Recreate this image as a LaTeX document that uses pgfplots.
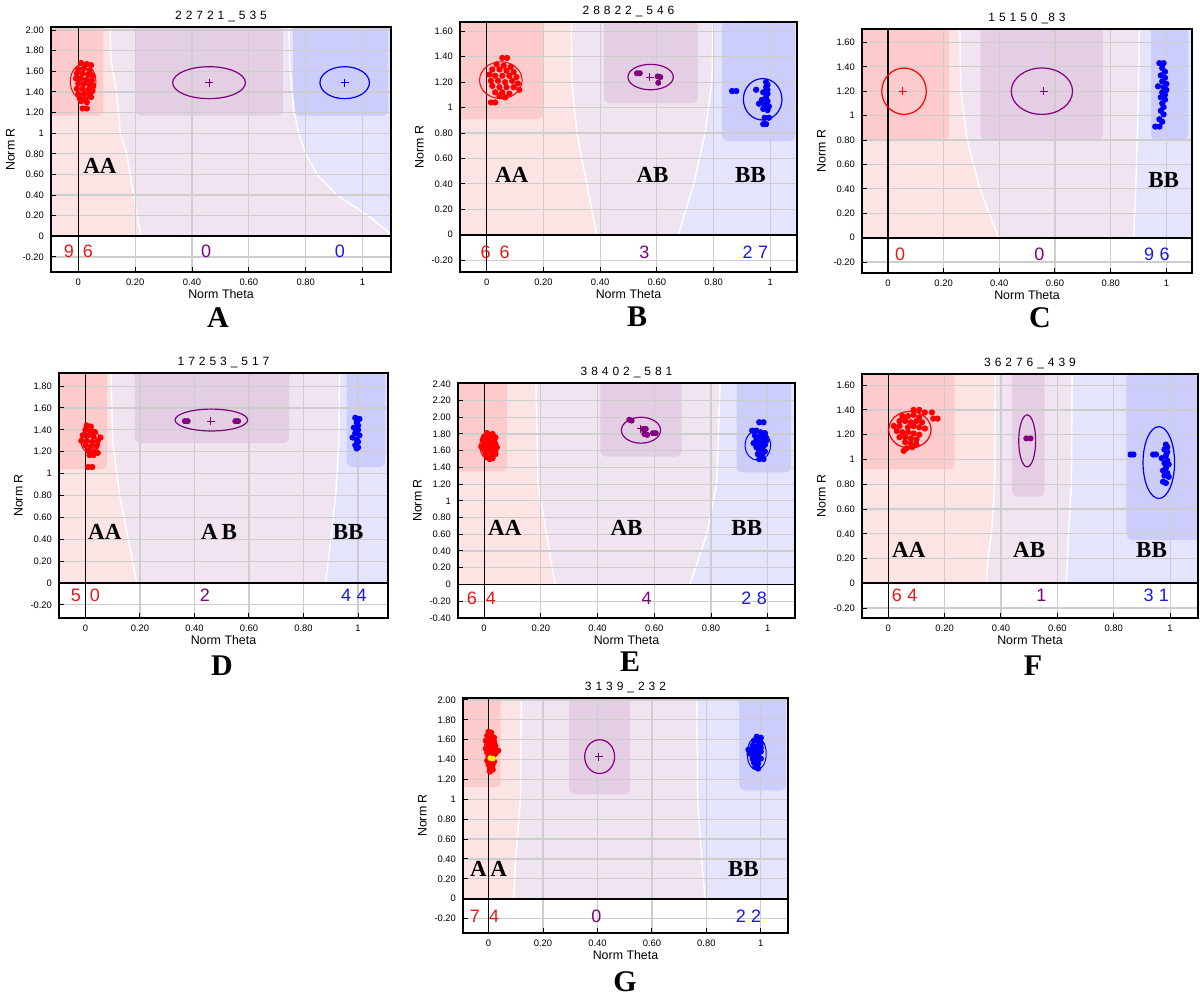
\documentclass[border=0pt]{standalone}
\usepackage{fontspec}
\setmainfont{Liberation Sans}
\newfontfamily\tnr{Liberation Serif}
\usepackage{pgfplots}
\pgfplotsset{compat=1.18}
\definecolor{aaOut}{RGB}{253,228,228}
\definecolor{aaIn}{RGB}{253,203,203}
\definecolor{abOut}{RGB}{241,228,241}
\definecolor{abIn}{RGB}{228,206,228}
\definecolor{bbOut}{RGB}{228,228,252}
\definecolor{bbIn}{RGB}{205,205,252}
\definecolor{gridgray}{RGB}{205,205,205}
\definecolor{cRed}{RGB}{255,0,0}
\definecolor{tRed}{RGB}{232,24,24}
\definecolor{cPurple}{RGB}{128,0,128}
\definecolor{cBlue}{RGB}{0,0,250}
\definecolor{tBlue}{RGB}{24,24,225}
\newcommand\mylab{\pgfmathtruncatemacro\tk{round(\tick*100)}\ifnum\tk=0 0\else\ifnum\tk=100 1\else\pgfmathprintnumber[fixed,fixed zerofill,precision=2,assume math mode=true]{\tick}\fi\fi}
\def\s{\hspace{0.33em}}
\newcommand\cnt[1]{\fontsize{9}{10}\selectfont #1}
\newcommand\gl[1]{{\fontsize{11.5}{12}\tnr\bfseries #1}}
\pgfplotsset{
  gs/.style={
    scale only axis, set layers, clip mode=individual,
    xtick={0,0.2,0.4,0.6,0.8,1},
    ytick={-0.4,-0.2,0,0.2,0.4,0.6,0.8,1,1.2,1.4,1.6,1.8,2,2.2,2.4},
    grid=major, grid style={draw=gridgray, line width=0.6pt},
    axis line style={line width=0.8pt},
    tick style={black, line width=0.5pt}, major tick length=2.5pt,
    tick pos=left, tick align=inside,
    ticklabel style={font=\fontsize{4.7}{5}\selectfont},
    xticklabel={\mylab}, yticklabel={\mylab},
    xlabel={Norm Theta}, ylabel={Norm R},
    label style={font=\fontsize{6.2}{7}\selectfont},
    xlabel style={yshift=5pt}, ylabel style={yshift=-3pt},
    title style={font=\fontsize{6}{7}\selectfont, yshift=-7pt},
  },
  bg/.style={draw=none, on layer=axis background, forget plot},
  inr/.style={draw=none, rounded corners=3pt, on layer=axis background, forget plot},
  bd/.style={white, line width=0.7pt, on layer=axis background, forget plot},
  zl/.style={black, line width=0.9pt, forget plot},
  rp/.style={only marks, mark=*, mark size=1.35pt, color=cRed},
  pp/.style={only marks, mark=*, mark size=1.3pt, color=cPurple},
  bp/.style={only marks, mark=*, mark size=1.35pt, color=cBlue},
  cr/.style={only marks, mark=+, mark size=2pt, line width=0.5pt},
}
\begin{document}
\begin{tikzpicture}
% ---------------- A
\begin{axis}[gs, at={(25.5pt,363pt)}, anchor=south west, width=170pt, height=122.5pt,
  xmin=-0.096, xmax=1.10, ymin=-0.346, ymax=2.03, title={2\s2\s7\s2\s1\s\_\s5\s3\s5}]
\addplot[bg, fill=abOut] coordinates {(-0.2,0)(1.2,0)(1.2,3)(-0.2,3)};
\addplot[bg, fill=aaOut] coordinates {(-0.2,0)(0.22,0)(0.195,0.4)(0.17,0.8)(0.148,1.0)(0.135,1.4)(0.115,1.7)(0.105,3)(-0.2,3)};
\addplot[bg, fill=bbOut] coordinates {(1.2,0)(1.1,0.02)(1.02,0.2)(0.91,0.4)(0.84,0.6)(0.80,0.8)(0.775,1.0)(0.76,1.2)(0.745,1.6)(0.73,3)(1.2,3)};
\addplot[inr, fill=aaIn] coordinates {(-0.3,3)(-0.3,1.17)(0.088,1.17)(0.088,3)};
\addplot[inr, fill=abIn] coordinates {(0.2,3)(0.2,1.17)(0.72,1.17)(0.72,3)};
\addplot[inr, fill=bbIn] coordinates {(0.756,3)(0.756,1.17)(1.09,1.17)(1.09,3)};
\addplot[bd] coordinates {(0.22,0)(0.195,0.4)(0.17,0.8)(0.148,1.0)(0.135,1.4)(0.115,1.7)(0.105,3)};
\addplot[bd] coordinates {(1.1,0.02)(1.02,0.2)(0.91,0.4)(0.84,0.6)(0.80,0.8)(0.775,1.0)(0.76,1.2)(0.745,1.6)(0.73,3)};
\addplot[zl] coordinates {(-0.2,0)(1.2,0)};
\addplot[zl, line width=0.6pt] coordinates {(0,-0.5)(0,3)};
\addplot[rp] coordinates {(0.010,1.68)(0.030,1.67)(0.045,1.66)(0.000,1.62)(0.020,1.63)(0.040,1.61)(-0.005,1.58)(0.015,1.58)(0.035,1.57)(0.050,1.56)(-0.008,1.53)(0.010,1.53)(0.030,1.52)(0.048,1.51)(0.000,1.48)(0.020,1.48)(0.040,1.47)(0.052,1.46)(-0.005,1.43)(0.015,1.43)(0.035,1.42)(0.050,1.41)(0.000,1.38)(0.020,1.38)(0.040,1.37)(0.005,1.34)(0.025,1.33)(0.045,1.35)(0.010,1.31)(0.030,1.30)(0.015,1.24)(0.030,1.24)};
\draw[cRed, line width=0.5pt] (axis cs:0.017,1.5) ellipse [x radius=0.045, y radius=0.17];
\draw[cPurple, line width=0.6pt] (axis cs:0.46,1.49) ellipse [x radius=0.128, y radius=0.155];
\draw[cBlue, line width=0.6pt] (axis cs:0.937,1.49) ellipse [x radius=0.087, y radius=0.155];
\addplot[cr, color=cPurple] coordinates {(0.46,1.49)};
\addplot[cr, color=cBlue] coordinates {(0.937,1.49)};
\node[text=tRed] at (axis cs:0.0,-0.145) {\cnt{9\hspace{0.5em}6}};
\node[text=cPurple] at (axis cs:0.45,-0.145) {\cnt{0}};
\node[text=tBlue] at (axis cs:0.92,-0.145) {\cnt{0}};
\node at (axis cs:0.076,0.68) {\gl{AA}};
\end{axis}
% ---------------- B
\begin{axis}[gs, at={(230pt,363pt)}, anchor=south west, width=168.5pt, height=125pt,
  xmin=-0.094, xmax=1.094, ymin=-0.293, ymax=1.673, title={2\s8\s8\s2\s2\s\_\s5\s4\s6}]
\addplot[bg, fill=abOut] coordinates {(-0.2,0)(1.2,0)(1.2,3)(-0.2,3)};
\addplot[bg, fill=aaOut] coordinates {(-0.2,0)(0.388,0)(0.353,0.4)(0.318,0.8)(0.30,1.2)(0.294,3)(-0.2,3)};
\addplot[bg, fill=bbOut] coordinates {(1.2,0)(0.676,0)(0.73,0.4)(0.77,0.8)(0.794,1.2)(0.81,3)(1.2,3)};
\addplot[inr, fill=aaIn] coordinates {(-0.3,3)(-0.3,0.91)(0.2,0.91)(0.2,3)};
\addplot[inr, fill=abIn] coordinates {(0.414,3)(0.414,1.033)(0.745,1.033)(0.745,3)};
\addplot[inr, fill=bbIn] coordinates {(0.83,3)(0.83,0.737)(1.088,0.737)(1.088,3)};
\addplot[bd] coordinates {(0.388,0)(0.353,0.4)(0.318,0.8)(0.30,1.2)(0.294,3)};
\addplot[bd] coordinates {(0.676,0)(0.73,0.4)(0.77,0.8)(0.794,1.2)(0.81,3)};
\addplot[zl] coordinates {(-0.2,0)(1.2,0)};
\addplot[zl, line width=0.6pt] coordinates {(0,-0.5)(0,3)};
\addplot[rp] coordinates {(0.055,1.39)(0.072,1.39)(0.035,1.34)(0.060,1.33)(0.085,1.32)(0.020,1.30)(0.045,1.30)(0.070,1.29)(0.095,1.28)(0.010,1.26)(0.030,1.25)(0.055,1.25)(0.080,1.25)(0.105,1.24)(0.015,1.21)(0.040,1.21)(0.065,1.20)(0.090,1.21)(0.110,1.19)(0.020,1.17)(0.045,1.16)(0.070,1.16)(0.095,1.16)(0.115,1.14)(0.030,1.12)(0.055,1.12)(0.080,1.11)(0.045,1.09)(0.065,1.08)(0.015,1.04)(0.030,1.04)};
\addplot[pp] coordinates {(0.530,1.27)(0.540,1.27)(0.603,1.245)(0.612,1.24)(0.605,1.195)};
\addplot[bp] coordinates {(0.865,1.13)(0.88,1.13)(0.95,1.14)(0.985,1.20)(0.99,1.18)(0.985,1.16)(0.99,1.14)(0.975,1.12)(0.99,1.11)(0.985,1.08)(0.97,1.06)(0.99,1.05)(0.96,1.03)(0.98,1.02)(0.995,1.01)(0.975,0.99)(0.99,0.98)(0.98,0.92)(0.995,0.92)(0.975,0.87)(0.985,0.87)};
\draw[cRed, line width=0.5pt] (axis cs:0.05,1.215) ellipse [x radius=0.075, y radius=0.145];
\draw[cPurple, line width=0.6pt] (axis cs:0.578,1.24) ellipse [x radius=0.08, y radius=0.1];
\draw[cBlue, line width=0.6pt] (axis cs:0.973,1.065) ellipse [x radius=0.068, y radius=0.163];
\addplot[cr, color=cPurple] coordinates {(0.575,1.24)};
\node[text=tRed] at (axis cs:0.03,-0.14) {\cnt{6\hspace{0.5em}6}};
\node[text=cPurple] at (axis cs:0.556,-0.14) {\cnt{3}};
\node[text=tBlue] at (axis cs:0.947,-0.14) {\cnt{2\hspace{0.3em}7}};
\node at (axis cs:0.088,0.47) {\gl{AA}};
\node at (axis cs:0.585,0.47) {\gl{AB}};
\node at (axis cs:0.93,0.47) {\gl{BB}};
\end{axis}
% ---------------- C
\begin{axis}[gs, at={(431pt,362.5pt)}, anchor=south west, width=165pt, height=122pt,
  xmin=-0.093, xmax=1.092, ymin=-0.29, ymax=1.71, title={1\s5\s1\s5\s0\s\_8\s3}]
\addplot[bg, fill=abOut] coordinates {(-0.2,0)(1.2,0)(1.2,3)(-0.2,3)};
\addplot[bg, fill=aaOut] coordinates {(-0.2,0)(0.397,0)(0.33,0.4)(0.285,0.8)(0.262,1.2)(0.248,3)(-0.2,3)};
\addplot[bg, fill=bbOut] coordinates {(1.2,0)(0.883,0)(0.89,0.4)(0.895,0.8)(0.90,1.2)(0.909,3)(1.2,3)};
\addplot[inr, fill=aaIn] coordinates {(-0.3,3)(-0.3,0.8)(0.22,0.8)(0.22,3)};
\addplot[inr, fill=abIn] coordinates {(0.332,3)(0.332,0.8)(0.772,0.8)(0.772,3)};
\addplot[inr, fill=bbIn] coordinates {(0.945,3)(0.945,0.8)(1.078,0.8)(1.078,3)};
\addplot[bd] coordinates {(0.397,0)(0.33,0.4)(0.285,0.8)(0.262,1.2)(0.248,3)};
\addplot[bd] coordinates {(0.883,0)(0.89,0.4)(0.895,0.8)(0.90,1.2)(0.909,3)};
\addplot[zl] coordinates {(-0.2,0)(1.2,0)};
\addplot[zl, line width=0.6pt] coordinates {(0,-0.5)(0,3)};
\addplot[bp] coordinates {(0.975,1.43)(0.99,1.43)(0.985,1.39)(0.995,1.36)(0.98,1.33)(0.995,1.31)(0.985,1.28)(1.0,1.26)(0.97,1.24)(0.99,1.23)(1.0,1.21)(0.985,1.19)(0.995,1.17)(0.98,1.15)(0.995,1.13)(0.985,1.10)(0.99,1.07)(0.98,1.04)(0.99,1.01)(0.975,0.97)(0.985,0.95)(0.96,0.91)(0.975,0.91)};
\draw[cRed, line width=0.6pt] (axis cs:0.058,1.2) ellipse [x radius=0.08, y radius=0.19];
\draw[cPurple, line width=0.6pt] (axis cs:0.553,1.2) ellipse [x radius=0.11, y radius=0.19];
\addplot[cr, color=cRed] coordinates {(0.053,1.2)};
\addplot[cr, color=cPurple] coordinates {(0.56,1.2)};
\node[text=tRed] at (axis cs:0.044,-0.14) {\cnt{0}};
\node[text=cPurple] at (axis cs:0.544,-0.14) {\cnt{0}};
\node[text=tBlue] at (axis cs:0.966,-0.14) {\cnt{9\hspace{0.3em}6}};
\node at (axis cs:0.99,0.47) {\gl{BB}};
\end{axis}
% ---------------- D
\begin{axis}[gs, at={(29.5pt,190pt)}, anchor=south west, width=164.5pt, height=122.5pt,
  xmin=-0.097, xmax=1.11, ymin=-0.32, ymax=1.92, title={1\s7\s2\s5\s3\s\_\s5\s1\s7}]
\addplot[bg, fill=abOut] coordinates {(-0.2,0)(1.2,0)(1.2,3)(-0.2,3)};
\addplot[bg, fill=aaOut] coordinates {(-0.2,0)(0.188,0)(0.157,0.4)(0.126,0.8)(0.10,1.3)(0.083,3)(-0.2,3)};
\addplot[bg, fill=bbOut] coordinates {(1.2,0)(0.881,0)(0.90,0.4)(0.918,0.8)(0.93,1.3)(0.936,3)(1.2,3)};
\addplot[inr, fill=aaIn] coordinates {(-0.3,3)(-0.3,1.04)(0.08,1.04)(0.08,3)};
\addplot[inr, fill=abIn] coordinates {(0.18,3)(0.18,1.28)(0.748,1.28)(0.748,3)};
\addplot[inr, fill=bbIn] coordinates {(0.958,3)(0.958,1.06)(1.1,1.06)(1.1,3)};
\addplot[bd] coordinates {(0.188,0)(0.157,0.4)(0.126,0.8)(0.10,1.3)(0.083,3)};
\addplot[bd] coordinates {(0.881,0)(0.90,0.4)(0.918,0.8)(0.93,1.3)(0.936,3)};
\addplot[zl] coordinates {(-0.2,0)(1.2,0)};
\addplot[zl, line width=0.6pt] coordinates {(0,-0.5)(0,3)};
\addplot[rp] coordinates {(0.005,1.44)(0.02,1.43)(0.0,1.40)(0.02,1.39)(0.035,1.38)(-0.01,1.35)(0.01,1.35)(0.03,1.34)(0.055,1.33)(-0.015,1.30)(0.005,1.30)(0.025,1.29)(0.045,1.30)(0.0,1.26)(0.02,1.25)(0.04,1.25)(0.01,1.21)(0.03,1.20)(0.045,1.19)(0.015,1.17)(0.03,1.17)(0.01,1.06)(0.025,1.06)};
\addplot[pp] coordinates {(0.365,1.48)(0.375,1.48)(0.55,1.48)(0.56,1.48)};
\addplot[bp] coordinates {(0.99,1.51)(1.005,1.50)(0.995,1.47)(1.0,1.44)(0.985,1.42)(1.0,1.40)(0.99,1.37)(1.005,1.35)(0.98,1.33)(0.995,1.31)(1.0,1.29)(0.99,1.26)(0.995,1.23)(1.0,1.24)};
\draw[cRed, line width=0.5pt] (axis cs:0.018,1.3) ellipse [x radius=0.035, y radius=0.11];
\draw[cPurple, line width=0.6pt] (axis cs:0.462,1.49) ellipse [x radius=0.133, y radius=0.1];
\addplot[cr, color=cPurple] coordinates {(0.46,1.48)};
\node[text=tRed] at (axis cs:0.0,-0.116) {\cnt{5\hspace{0.5em}0}};
\node[text=cPurple] at (axis cs:0.438,-0.116) {\cnt{2}};
\node[text=tBlue] at (axis cs:0.985,-0.116) {\cnt{4\hspace{0.3em}4}};
\node at (axis cs:0.071,0.47) {\gl{AA}};
\node at (axis cs:0.49,0.47) {\gl{A\,B}};
\node at (axis cs:0.964,0.47) {\gl{BB}};
\end{axis}
% ---------------- E
\begin{axis}[gs, at={(229pt,190pt)}, anchor=south west, width=168.5pt, height=117.5pt,
  xmin=-0.092, xmax=1.096, ymin=-0.402, ymax=2.41, title={3\s8\s4\s0\s2\s\_\s5\s8\s1}]
\addplot[bg, fill=abOut] coordinates {(-0.2,0)(1.2,0)(1.2,3)(-0.2,3)};
\addplot[bg, fill=aaOut] coordinates {(-0.2,0)(0.25,0)(0.22,0.6)(0.19,1.2)(0.179,3)(-0.2,3)};
\addplot[bg, fill=bbOut] coordinates {(1.2,0)(0.726,0)(0.785,0.6)(0.82,1.2)(0.838,3)(1.2,3)};
\addplot[inr, fill=aaIn] coordinates {(-0.3,3)(-0.3,1.353)(0.081,1.353)(0.081,3)};
\addplot[inr, fill=abIn] coordinates {(0.41,3)(0.41,1.53)(0.696,1.53)(0.696,3)};
\addplot[inr, fill=bbIn] coordinates {(0.89,3)(0.89,1.34)(1.082,1.34)(1.082,3)};
\addplot[bd] coordinates {(0.25,0)(0.22,0.6)(0.19,1.2)(0.179,3)};
\addplot[bd] coordinates {(0.726,0)(0.785,0.6)(0.82,1.2)(0.838,3)};
\addplot[zl] coordinates {(-0.2,0)(1.2,0)};
\addplot[zl, line width=0.6pt] coordinates {(0,-0.5)(0,3)};
\addplot[rp] coordinates {(0.01,1.81)(0.03,1.80)(0.0,1.77)(0.02,1.77)(0.04,1.76)(-0.005,1.73)(0.015,1.73)(0.035,1.72)(0.0,1.69)(0.02,1.69)(0.04,1.68)(-0.01,1.65)(0.01,1.65)(0.03,1.65)(0.045,1.64)(0.0,1.61)(0.02,1.61)(0.04,1.60)(0.005,1.57)(0.025,1.57)(0.04,1.56)(0.01,1.52)(0.03,1.51)(0.02,1.50)};
\addplot[pp] coordinates {(0.512,1.97)(0.52,1.96)(0.56,1.86)(0.57,1.86)(0.565,1.80)(0.575,1.79)(0.595,1.81)(0.605,1.81)};
\addplot[bp] coordinates {(0.97,1.94)(0.985,1.94)(0.945,1.84)(0.96,1.84)(0.975,1.82)(0.99,1.81)(0.955,1.78)(0.975,1.77)(0.99,1.76)(0.96,1.73)(0.98,1.72)(0.995,1.72)(0.95,1.69)(0.97,1.68)(0.99,1.67)(0.96,1.64)(0.98,1.63)(0.97,1.60)(0.99,1.59)(0.965,1.56)(0.98,1.54)(0.97,1.50)(0.985,1.50)};
\draw[cRed, line width=0.5pt] (axis cs:0.015,1.66) ellipse [x radius=0.03, y radius=0.16];
\draw[cPurple, line width=0.6pt] (axis cs:0.553,1.845) ellipse [x radius=0.069, y radius=0.155];
\draw[cBlue, line width=0.5pt] (axis cs:0.965,1.665) ellipse [x radius=0.045, y radius=0.18];
\addplot[cr, color=cPurple] coordinates {(0.553,1.86)};
\node[text=tRed] at (axis cs:-0.01,-0.17) {\cnt{6\hspace{0.5em}4}};
\node[text=cPurple] at (axis cs:0.573,-0.17) {\cnt{4}};
\node[text=tBlue] at (axis cs:0.952,-0.17) {\cnt{2\hspace{0.3em}8}};
\node at (axis cs:0.073,0.677) {\gl{AA}};
\node at (axis cs:0.502,0.677) {\gl{AB}};
\node at (axis cs:0.926,0.677) {\gl{BB}};
\end{axis}
% ---------------- F
\begin{axis}[gs, at={(431pt,190pt)}, anchor=south west, width=168pt, height=122pt,
  xmin=-0.093, xmax=1.099, ymin=-0.28, ymax=1.69, title={3\s6\s2\s7\s6\s\_\s4\s3\s9}]
\addplot[bg, fill=abOut] coordinates {(-0.2,0)(1.2,0)(1.2,3)(-0.2,3)};
\addplot[bg, fill=aaOut] coordinates {(-0.2,0)(0.348,0)(0.354,0.2)(0.366,0.4)(0.378,0.8)(0.383,3)(-0.2,3)};
\addplot[bg, fill=bbOut] coordinates {(1.2,0)(0.632,0)(0.64,0.4)(0.65,0.8)(0.656,3)(1.2,3)};
\addplot[inr, fill=aaIn] coordinates {(-0.3,3)(-0.3,0.92)(0.235,0.92)(0.235,3)};
\addplot[inr, fill=abIn] coordinates {(0.439,3)(0.439,0.7)(0.555,0.7)(0.555,3)};
\addplot[inr, fill=bbIn] coordinates {(0.845,3)(0.845,0.35)(1.2,0.35)(1.2,3)};
\addplot[bd] coordinates {(0.348,0)(0.354,0.2)(0.366,0.4)(0.378,0.8)(0.383,3)};
\addplot[bd] coordinates {(0.632,0)(0.64,0.4)(0.65,0.8)(0.656,3)};
\addplot[zl] coordinates {(-0.2,0)(1.2,0)};
\addplot[zl, line width=0.6pt] coordinates {(0,-0.5)(0,3)};
\addplot[rp] coordinates {(0.09,1.40)(0.11,1.40)(0.13,1.38)(0.155,1.38)(0.05,1.35)(0.07,1.35)(0.09,1.36)(0.11,1.34)(0.16,1.33)(0.175,1.33)(0.04,1.31)(0.06,1.31)(0.08,1.30)(0.10,1.31)(0.12,1.30)(0.02,1.27)(0.04,1.27)(0.07,1.26)(0.09,1.27)(0.11,1.26)(0.13,1.25)(0.03,1.23)(0.05,1.22)(0.07,1.22)(0.09,1.21)(0.11,1.20)(0.04,1.18)(0.06,1.18)(0.08,1.17)(0.10,1.16)(0.06,1.14)(0.08,1.13)(0.10,1.12)(0.065,1.09)(0.085,1.10)(0.055,1.07)};
\addplot[pp] coordinates {(0.49,1.17)(0.505,1.17)};
\addplot[bp] coordinates {(0.86,1.04)(0.87,1.04)(0.94,1.04)(0.95,1.04)(0.985,1.12)(0.99,1.10)(0.98,1.08)(0.99,1.06)(0.985,1.03)(0.97,1.01)(0.99,0.99)(0.98,0.97)(0.995,0.96)(0.985,0.93)(0.975,0.91)(0.99,0.89)(0.98,0.87)(0.995,0.86)(0.975,0.82)(0.985,0.81)};
\draw[cRed, line width=0.6pt] (axis cs:0.077,1.24) ellipse [x radius=0.075, y radius=0.148];
\draw[cPurple, line width=0.6pt] (axis cs:0.493,1.15) ellipse [x radius=0.03, y radius=0.21];
\draw[cBlue, line width=0.6pt] (axis cs:0.96,0.975) ellipse [x radius=0.056, y radius=0.29];
\node[text=tRed] at (axis cs:0.058,-0.094) {\cnt{6\hspace{0.3em}4}};
\node[text=cPurple] at (axis cs:0.543,-0.094) {\cnt{1}};
\node[text=tBlue] at (axis cs:0.951,-0.094) {\cnt{3\hspace{0.3em}1}};
\node at (axis cs:0.073,0.27) {\gl{AA}};
\node at (axis cs:0.50,0.27) {\gl{AB}};
\node at (axis cs:0.934,0.27) {\gl{BB}};
\end{axis}
% ---------------- G
\begin{axis}[gs, at={(231.5pt,32.5pt)}, anchor=south west, width=162.5pt, height=117.5pt,
  xmin=-0.094, xmax=1.10, ymin=-0.346, ymax=2.02, title={3\s1\s3\s9\s\_\s2\s3\s2}]
\addplot[bg, fill=abOut] coordinates {(-0.2,0)(1.2,0)(1.2,3)(-0.2,3)};
\addplot[bg, fill=aaOut] coordinates {(-0.2,0)(0.092,0)(0.10,0.4)(0.117,1.0)(0.124,3)(-0.2,3)};
\addplot[bg, fill=bbOut] coordinates {(1.2,0)(0.795,0)(0.783,0.4)(0.768,1.0)(0.762,3)(1.2,3)};
\addplot[inr, fill=aaIn] coordinates {(-0.3,3)(-0.3,1.12)(0.044,1.12)(0.044,3)};
\addplot[inr, fill=abIn] coordinates {(0.296,3)(0.296,1.05)(0.519,1.05)(0.519,3)};
\addplot[inr, fill=bbIn] coordinates {(0.921,3)(0.921,1.09)(1.093,1.09)(1.093,3)};
\addplot[bd] coordinates {(0.092,0)(0.10,0.4)(0.117,1.0)(0.124,3)};
\addplot[bd] coordinates {(0.795,0)(0.783,0.4)(0.768,1.0)(0.762,3)};
\addplot[zl] coordinates {(-0.2,0)(1.2,0)};
\addplot[zl, line width=0.6pt] coordinates {(0,-0.5)(0,3)};
\addplot[rp] coordinates {(0.0,1.68)(0.01,1.67)(-0.005,1.64)(0.01,1.63)(0.02,1.62)(-0.01,1.59)(0.005,1.59)(0.02,1.58)(-0.005,1.55)(0.01,1.55)(0.025,1.54)(-0.01,1.51)(0.005,1.51)(0.02,1.50)(0.035,1.49)(-0.005,1.47)(0.01,1.46)(0.025,1.46)(0.0,1.43)(0.015,1.43)(-0.005,1.39)(0.01,1.39)(0.02,1.38)(0.0,1.35)(0.015,1.35)(0.005,1.31)(0.015,1.30)(0.005,1.28)};
\addplot[only marks, mark=*, mark size=1.2pt, color=yellow] coordinates {(0.006,1.415)(0.016,1.41)};
\addplot[bp] coordinates {(0.985,1.63)(1.0,1.62)(0.975,1.59)(0.99,1.58)(1.0,1.56)(0.97,1.54)(0.985,1.53)(1.0,1.52)(0.955,1.50)(0.97,1.49)(0.985,1.48)(1.0,1.48)(0.96,1.46)(0.975,1.45)(0.99,1.44)(0.97,1.41)(0.985,1.40)(1.0,1.41)(0.975,1.37)(0.99,1.36)(0.98,1.33)(0.99,1.31)};
\draw[cPurple, line width=0.6pt] (axis cs:0.408,1.43) ellipse [x radius=0.055, y radius=0.17];
\draw[cBlue, line width=0.5pt] (axis cs:0.985,1.46) ellipse [x radius=0.035, y radius=0.165];
\addplot[cr, color=cPurple] coordinates {(0.405,1.43)};
\node[text=tRed] at (axis cs:-0.015,-0.178) {\cnt{7\hspace{0.5em}4}};
\node[text=cPurple] at (axis cs:0.396,-0.178) {\cnt{0}};
\node[text=tBlue] at (axis cs:0.955,-0.178) {\cnt{2\hspace{0.3em}2}};
\node at (axis cs:0.0,0.30) {\gl{A\,A}};
\node at (axis cs:0.936,0.30) {\gl{BB}};
\end{axis}
% panel letters
\begin{scope}[every node/.style={font=\fontsize{15}{16}\tnr\bfseries}]
\node at (109pt,340pt) {A};
\node at (318.5pt,340.5pt) {B};
\node at (520pt,340pt) {C};
\node at (111pt,166pt) {D};
\node at (315pt,168pt) {E};
\node at (516.5pt,166pt) {F};
\node at (312.5pt,8pt) {G};
\end{scope}
\pgfresetboundingbox
\useasboundingbox (0,0) rectangle (600pt,499pt);
\end{tikzpicture}
\end{document}
